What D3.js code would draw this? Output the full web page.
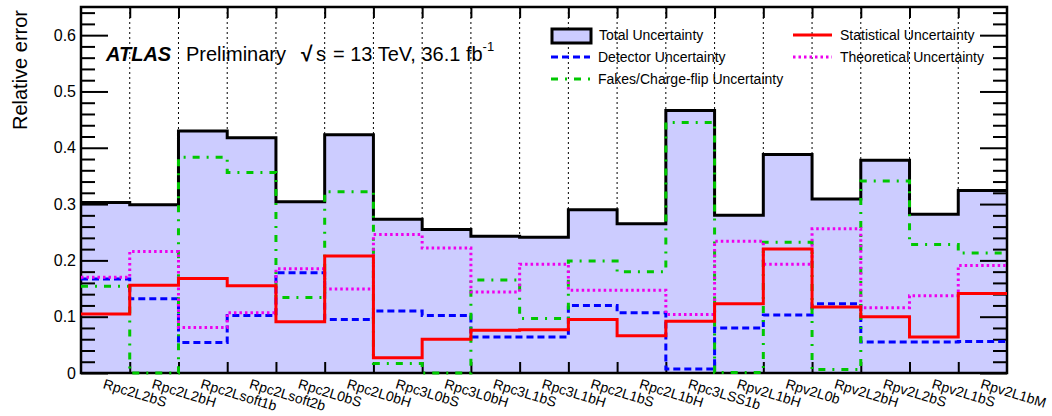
<!DOCTYPE html>
<html>
<head>
<meta charset="utf-8">
<script src="https://cdn.jsdelivr.net/npm/d3@7"></script>
<style>
  body { margin: 0; background: #fff; }
  text { font-family: "Liberation Sans", Arial, Helvetica, sans-serif; }
</style>
</head>
<body>
<div id="chart"></div>
<script>
const regions = ["Rpc2L2bS", "Rpc2L2bH", "Rpc2Lsoft1b", "Rpc2Lsoft2b", "Rpc2L0bS", "Rpc2L0bH",
  "Rpc3L0bS", "Rpc3L0bH", "Rpc3L1bS", "Rpc3L1bH", "Rpc2L1bS", "Rpc2L1bH", "Rpc3LSS1b",
  "Rpv2L1bH", "Rpv2L0b", "Rpv2L2bH", "Rpv2L2bS", "Rpv2L1bS", "Rpv2L1bM"];

const totalUnc = [0.303, 0.299, 0.430, 0.418, 0.304, 0.423, 0.273, 0.255, 0.243, 0.241,
  0.290, 0.265, 0.466, 0.280, 0.388, 0.309, 0.378, 0.282, 0.324];
const statUnc = [0.105, 0.156, 0.168, 0.155, 0.091, 0.208, 0.027, 0.060, 0.076, 0.077,
  0.095, 0.066, 0.092, 0.123, 0.220, 0.117, 0.100, 0.064, 0.141];
const detUnc = [0.167, 0.132, 0.054, 0.102, 0.178, 0.095, 0.110, 0.102, 0.064, 0.064,
  0.120, 0.107, 0.007, 0.080, 0.103, 0.123, 0.055, 0.055, 0.056];
const theoUnc = [0.170, 0.216, 0.081, 0.107, 0.185, 0.149, 0.246, 0.222, 0.144, 0.193,
  0.147, 0.147, 0.104, 0.234, 0.193, 0.256, 0.116, 0.137, 0.191];
const fakeUnc = [0.154, 0.0, 0.383, 0.356, 0.134, 0.322, 0.017, 0.0, 0.165, 0.097,
  0.199, 0.180, 0.445, 0.001, 0.232, 0.006, 0.341, 0.228, 0.213];

const yMajor = [0, 0.1, 0.2, 0.3, 0.4, 0.5, 0.6];
const yMinor = d3.range(0, 33).map(i => +(i * 0.02).toFixed(2)).filter(v => Math.abs(v * 10 - Math.round(v * 10)) > 1e-6);

const W = 1052, H = 416;
const svg = d3.select("#chart").append("svg").attr("width", W).attr("height", H);

const x = d3.scaleLinear().domain([0, regions.length]).range([81, 1007]);
const y = d3.scaleLinear().domain([0, 0.65]).range([373, 7]);

// dotted grid at bin edges
svg.append("g")
  .selectAll("line")
  .data(d3.range(1, regions.length))
  .join("line")
  .attr("x1", d => x(d)).attr("x2", d => x(d))
  .attr("y1", y(0.65)).attr("y2", y(0))
  .attr("stroke", "#000").attr("stroke-width", 1).attr("stroke-dasharray", "2,3");

const stepPts = vals => vals.map((v, i) => [i, v]).concat([[vals.length, vals[vals.length - 1]]]);

// total uncertainty fill + outline
const area = d3.area().x(d => x(d[0])).y0(y(0)).y1(d => y(d[1])).curve(d3.curveStepAfter);
const line = d3.line().x(d => x(d[0])).y(d => y(d[1])).curve(d3.curveStepAfter);

svg.append("path").datum(stepPts(totalUnc)).attr("d", area).attr("fill", "#ccccff");
svg.append("path").datum(stepPts(totalUnc)).attr("d", line)
  .attr("fill", "none").attr("stroke", "#000").attr("stroke-width", 3);

// axes
function styleAxis(g) {
  g.select(".domain").remove();
  g.selectAll(".tick line").attr("stroke", "#000").attr("stroke-width", 2);
  g.selectAll("text").attr("font-family", "Liberation Sans, Arial, sans-serif")
    .attr("font-size", 16).attr("fill", "#000");
}
const fmt = d => d === 0 ? "0" : d3.format(".1f")(d);

svg.append("g").attr("transform", `translate(${x(0)},0)`)
  .call(d3.axisLeft(y).tickValues(yMajor).tickSize(-27).tickPadding(5).tickFormat(fmt))
  .call(styleAxis);
svg.append("g").attr("transform", `translate(${x(0)},0)`)
  .call(d3.axisLeft(y).tickValues(yMinor).tickSize(-14).tickFormat(""))
  .call(styleAxis);
svg.append("g").attr("transform", `translate(${x(regions.length)},0)`)
  .call(d3.axisRight(y).tickValues(yMajor).tickSize(-27).tickFormat(""))
  .call(styleAxis);
svg.append("g").attr("transform", `translate(${x(regions.length)},0)`)
  .call(d3.axisRight(y).tickValues(yMinor).tickSize(-14).tickFormat(""))
  .call(styleAxis);
svg.append("g").attr("transform", `translate(0,${y(0)})`)
  .call(d3.axisBottom(x).tickValues(d3.range(1, regions.length)).tickSize(-11).tickFormat(""))
  .call(styleAxis);
svg.append("g").attr("transform", `translate(0,${y(0.65)})`)
  .call(d3.axisTop(x).tickValues(d3.range(1, regions.length)).tickSize(-11).tickFormat(""))
  .call(styleAxis);

svg.append("rect")
  .attr("x", x(0)).attr("y", y(0.65))
  .attr("width", x(regions.length) - x(0)).attr("height", y(0) - y(0.65))
  .attr("fill", "none").attr("stroke", "#000").attr("stroke-width", 2.5);

// x labels
svg.append("g")
  .selectAll("text")
  .data(regions)
  .join("text")
  .attr("transform", (d, i) => `translate(${x(i + 0.5) - 3},388) rotate(17)`)
  .attr("font-size", 14)
  .text(d => d);

// y title
svg.append("text")
  .attr("transform", "translate(27,10) rotate(-90)")
  .attr("text-anchor", "end")
  .attr("font-size", 20)
  .text("Relative error");

// series lines
const series = [
  { name: "Detector Uncertainty", vals: detUnc, color: "#0000ff", dash: "7,4" },
  { name: "Fakes/Charge-flip Uncertainty", vals: fakeUnc, color: "#00c800", dash: "7,7,2,7" },
  { name: "Theoretical Uncertainty", vals: theoUnc, color: "#ee00ee", dash: "2.5,3" },
  { name: "Statistical Uncertainty", vals: statUnc, color: "#ff0000", dash: null }
];
series.forEach(s => {
  svg.append("path").datum(stepPts(s.vals)).attr("d", line)
    .attr("fill", "none").attr("stroke", s.color).attr("stroke-width", 3)
    .attr("stroke-dasharray", s.dash);
});

// ATLAS label
const lab = svg.append("g");
lab.append("text").attr("x", 106).attr("y", 61).attr("font-size", 20)
  .attr("font-weight", "bold").attr("font-style", "italic").text("ATLAS");
lab.append("text").attr("x", 186).attr("y", 61).attr("font-size", 20).text("Preliminary");
lab.append("text").attr("x", 301).attr("y", 61).attr("font-size", 21).attr("font-weight", "bold").text("√");
lab.append("text").attr("x", 316).attr("y", 61).attr("font-size", 20).text("s");
const en = lab.append("text").attr("x", 333).attr("y", 61).attr("font-size", 20);
en.append("tspan").text("= 13 TeV, 36.1 fb");
en.append("tspan").attr("dy", -10).attr("font-size", 13).text("-1");

// legend
const leg = svg.append("g").attr("font-size", 14);
leg.append("rect").attr("x", 552).attr("y", 29).attr("width", 39).attr("height", 14)
  .attr("fill", "#ccccff").attr("stroke", "#000").attr("stroke-width", 3);
leg.append("text").attr("x", 599).attr("y", 40).text("Total Uncertainty");

const legItems = [
  { s: series[0], x0: 551, ty: 57 },
  { s: series[1], x0: 551, ty: 79 },
  { s: series[3], x0: 793, ty: 35 },
  { s: series[2], x0: 793, ty: 57 }
];
legItems.forEach(d => {
  leg.append("line").attr("x1", d.x0).attr("x2", d.x0 + 39).attr("y1", d.ty).attr("y2", d.ty)
    .attr("stroke", d.s.color).attr("stroke-width", 3).attr("stroke-dasharray", d.s.dash);
  leg.append("text").attr("x", d.x0 + 47).attr("y", d.ty + 5).text(d.s.name);
});
</script>
</body>
</html>
